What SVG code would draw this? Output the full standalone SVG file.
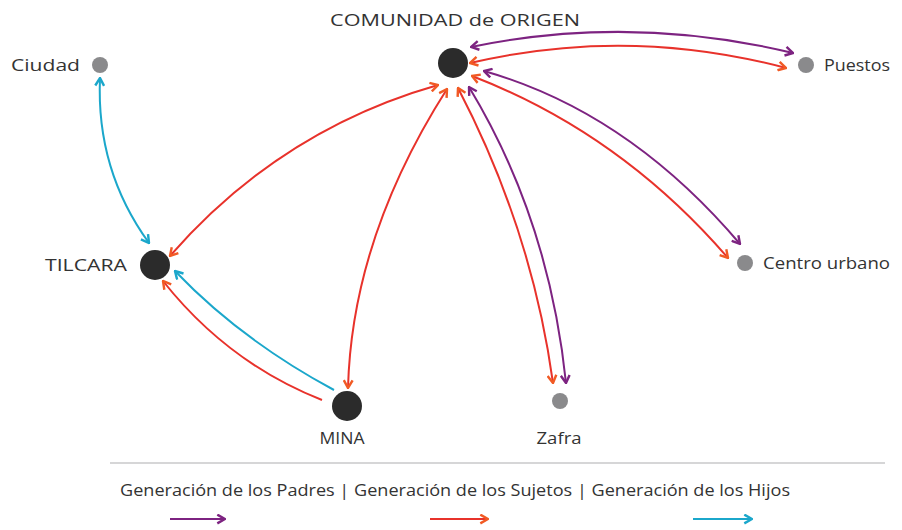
<svg xmlns="http://www.w3.org/2000/svg" width="902" height="530" viewBox="0 0 902 530">
<style>
text{font-family:"Open Sans","Liberation Sans",sans-serif;font-size:17px;fill:#333;}
.big{fill:#2b2b2b;}
.small{fill:#8a8a8c;}
.c{fill:none;stroke-width:2;}
.p{stroke:#7d2381;}
.r{stroke:#e8322b;}
.b{stroke:#1ba7cb;}
.pm{marker-start:url(#mp);marker-end:url(#mp);}
.rm{marker-start:url(#mr);marker-end:url(#mr);}
.bm{marker-start:url(#mb);marker-end:url(#mb);}
</style>
<defs>
<marker id="mp" viewBox="0 0 10 10" refX="9" refY="5" markerWidth="11" markerHeight="11" markerUnits="userSpaceOnUse" orient="auto-start-reverse"><path d="M2,1 L9,5 L2,9" fill="none" stroke="#7d2381" stroke-width="2.2"/></marker>
<marker id="mr" viewBox="0 0 10 10" refX="9" refY="5" markerWidth="11" markerHeight="11" markerUnits="userSpaceOnUse" orient="auto-start-reverse"><path d="M2,1 L9,5 L2,9" fill="none" stroke="#f15a24" stroke-width="2.2"/></marker>
<marker id="mb" viewBox="0 0 10 10" refX="9" refY="5" markerWidth="11" markerHeight="11" markerUnits="userSpaceOnUse" orient="auto-start-reverse"><path d="M2,1 L9,5 L2,9" fill="none" stroke="#1ba7cb" stroke-width="2.2"/></marker>
</defs>
<rect width="902" height="530" fill="#fff"/>
<g id="connectors">
<path class="c p pm" d="M471,47 Q631,14 793,53"/>
<path class="c r rm" d="M470,63 Q628,26 786,68"/>
<path class="c p pm" d="M484,71 Q628,112 740,244"/>
<path class="c r rm" d="M472,76 Q620,133 728,258"/>
<path class="c p pm" d="M469,87 Q549,219 566,383"/>
<path class="c r rm" d="M458,88 Q532,230 553,383"/>
<path class="c r rm" d="M438,85 Q280,130 170,256"/>
<path class="c r rm" d="M447,89 Q352,238 348,388"/>
<path class="c r" marker-end="url(#mr)" d="M322,400 Q228,363 163,281"/>
<path class="c b" marker-end="url(#mb)" d="M334,390 Q241,340 175,271"/>
<path class="c b bm" d="M100,78 Q96,170 149,243"/>
</g>
<g id="n-comunidad"><circle class="big" cx="453" cy="63" r="15"/><text x="455" y="26" text-anchor="middle" textLength="250" lengthAdjust="spacingAndGlyphs">COMUNIDAD de ORIGEN</text></g>
<g id="n-puestos"><circle class="small" cx="806" cy="65" r="8"/><text x="824" y="71" textLength="66" lengthAdjust="spacingAndGlyphs">Puestos</text></g>
<g id="n-ciudad"><circle class="small" cx="100" cy="65" r="8"/><text x="11" y="71" textLength="69" lengthAdjust="spacingAndGlyphs">Ciudad</text></g>
<g id="n-tilcara"><circle class="big" cx="155" cy="265" r="15"/><text x="45" y="271" textLength="82" lengthAdjust="spacingAndGlyphs">TILCARA</text></g>
<g id="n-centro"><circle class="small" cx="745" cy="263" r="8"/><text x="763" y="269" textLength="127" lengthAdjust="spacingAndGlyphs">Centro urbano</text></g>
<g id="n-mina"><circle class="big" cx="347" cy="406" r="15"/><text x="342" y="444" text-anchor="middle" textLength="45" lengthAdjust="spacingAndGlyphs">MINA</text></g>
<g id="n-zafra"><circle class="small" cx="560" cy="401" r="8"/><text x="559" y="444" text-anchor="middle" textLength="45" lengthAdjust="spacingAndGlyphs">Zafra</text></g>
<g id="legend">
<line x1="110" y1="463" x2="885" y2="463" stroke="#c8c8ca" stroke-width="1.5"/>
<text x="120" y="496" textLength="670" lengthAdjust="spacingAndGlyphs">Generación de los Padres | Generación de los Sujetos | Generación de los Hijos</text>
<path class="c p" marker-end="url(#mp)" d="M170,519 L225,519"/>
<path class="c r" marker-end="url(#mr)" d="M430,519 L488,519"/>
<path class="c b" marker-end="url(#mb)" d="M693,519 L752,519"/>
</g>
</svg>
